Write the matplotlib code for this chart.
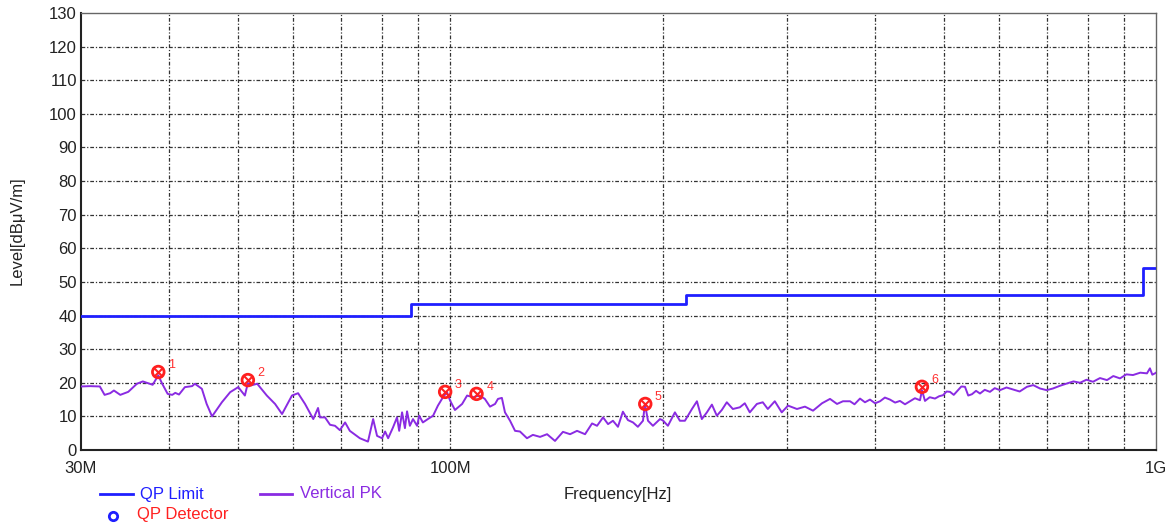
import matplotlib
matplotlib.use("Agg")
import matplotlib.pyplot as plt
import matplotlib.ticker as mticker
from matplotlib.lines import Line2D

plt.rcParams['font.family'] = ['Liberation Sans', 'DejaVu Sans']

# QP limit (MHz, dBuV/m), drawn as steps
limit_freq = [30.0, 88.0, 88.0, 216.0, 216.0, 960.0, 960.0, 1000.0]
limit_level = [40.0, 40.0, 43.5, 43.5, 46.0, 46.0, 54.0, 54.0]

# Vertical PK trace
pk_freq = [30.0, 30.9, 31.9, 32.4, 33.0, 33.4, 34.1, 35.0, 36.0, 36.7, 37.9, 38.6, 39.1,
           39.8, 40.4, 40.8, 41.3, 42.1, 43.1, 43.5, 44.5, 45.2, 46.0, 47.5, 48.8, 50.1,
           51.2, 51.7, 52.2, 53.3, 55.0, 56.5, 57.8, 59.7, 60.9, 62.3, 64.0, 65.0, 65.4,
           66.5, 67.6, 68.7, 69.8, 71.0, 72.1, 74.5, 76.5, 77.8, 78.8, 80.1, 80.9, 81.7,
           83.0, 84.1, 84.7, 85.5, 86.3, 86.9, 87.7, 88.6, 89.8, 90.4, 91.5, 93.0, 94.6,
           96.1, 97.7, 99.0, 100.0, 101.6, 104.0, 105.7, 107.7, 110.2, 112.0, 113.9, 115.8,
           116.9, 118.4, 119.6, 121.6, 123.6, 125.6, 128.5, 131.0, 134.1, 137.2, 140.8,
           144.5, 147.9, 151.3, 155.3, 158.9, 161.5, 164.7, 167.4, 170.1, 172.9, 175.7,
           178.6, 181.6, 184.5, 187.6, 188.8, 190.7, 193.8, 198.3, 200.2, 203.5, 208.2,
           211.6, 215.1, 220.1, 223.7, 227.3, 231.1, 234.9, 238.7, 242.6, 246.6, 251.5,
           257.3, 261.5, 265.8, 272.0, 277.3, 281.9, 288.4, 295.0, 301.1, 310.0, 318.2,
           326.7, 336.4, 345.3, 353.3, 360.2, 368.6, 374.0, 380.8, 387.0, 393.4, 400.0,
           406.5, 413.0, 419.9, 427.0, 433.8, 441.0, 448.2, 455.5, 463.1, 466.1, 470.7,
           478.0, 486.3, 493.0, 499.2, 505.0, 510.7, 517.0, 524.3, 530.0, 536.3, 542.0,
           548.7, 556.0, 563.2, 572.0, 581.8, 591.0, 601.1, 614.0, 627.2, 641.0, 656.4,
           670.0, 684.9, 700.0, 714.5, 731.0, 748.0, 764.0, 780.5, 797.0, 814.3, 833.0,
           852.3, 870.0, 889.2, 908.0, 927.7, 950.0, 971.0, 980.4, 988.0, 996.6, 1000.0]
pk_level = [18.9, 19.0, 18.9, 16.4, 16.9, 17.7, 16.4, 17.3, 19.7, 20.4, 19.4, 22.2, 19.7,
            16.7, 16.4, 17.0, 16.5, 18.7, 19.0, 19.7, 18.2, 13.7, 10.0, 14.2, 17.2, 18.7,
            16.2, 19.9, 19.2, 19.7, 16.2, 13.7, 10.7, 16.2, 16.9, 13.7, 9.2, 12.5, 9.7,
            9.7, 7.5, 7.2, 5.9, 8.2, 5.7, 3.5, 2.5, 9.2, 4.2, 3.5, 5.5, 3.5,
            6.7, 9.7, 5.7, 11.2, 6.5, 11.5, 7.2, 9.2, 7.2, 10.2, 8.2, 9.2, 10.2,
            13.2, 15.7, 17.2, 14.7, 11.9, 13.7, 16.2, 15.7, 16.2, 15.2, 12.9, 13.7,
            15.2, 15.5, 11.2, 8.7, 5.7, 5.5, 3.5, 4.5, 3.9, 4.7, 2.7,
            5.4, 4.7, 5.7, 4.7, 7.9, 7.2, 9.7, 7.7, 8.7, 6.9, 11.4,
            8.9, 8.2, 6.9, 8.7, 13.7, 8.7, 7.2, 9.2, 8.8, 7.2, 11.2,
            8.7, 8.7, 12.2, 14.5, 9.2, 11.2, 13.5, 10.2, 11.9, 14.2, 12.2,
            12.7, 13.9, 11.2, 13.7, 14.2, 12.2, 14.5, 11.2, 13.2, 12.2, 12.9,
            11.7, 13.9, 15.2, 13.7, 14.5, 14.5, 13.6, 15.3, 14.2, 15.0, 13.9,
            14.5, 15.6, 15.0, 14.1, 14.6, 13.6, 14.5, 15.4, 14.8, 17.8, 14.6,
            15.7, 15.3, 16.0, 16.3, 17.4, 17.3, 16.4, 17.8, 18.9, 18.8, 16.2,
            16.6, 17.6, 16.8, 17.9, 17.3, 18.4, 17.8, 18.6, 18.0, 17.4, 18.8,
            19.3, 18.3, 17.8, 18.3, 19.1, 19.8, 20.4, 20.0, 20.9, 20.3, 21.4,
            20.8, 22.0, 21.3, 22.5, 22.3, 23.0, 22.8, 24.3, 22.4, 22.8, 23.0]

# QP detector peaks (MHz, dBuV/m)
peak_freq = [38.6, 51.7, 98.4, 109.0, 189.0, 466.0]
peak_level = [23.2, 20.8, 17.3, 16.7, 13.7, 18.8]
peak_labels = ['1', '2', '3', '4', '5', '6']

yticks = list(range(0, 131, 10))
grid_freqs = [40, 50, 60, 70, 80, 90, 100, 200, 300, 400, 500, 600, 700, 800, 900]
xtick_freqs = [30, 100, 1000]
xtick_labels = ['30M', '100M', '1G']

limit_color = '#1f1fff'
pk_color = '#8a2be2'
text_color = '#222222'

W, H = 1170, 526
fig = plt.figure(figsize=(11.7, 5.26), dpi=100)
ax = fig.add_axes([81 / W, 1 - 450 / H, 1075 / W, 437 / H])

ax.set_xscale('log')
ax.set_xlim(30, 1000)
ax.set_ylim(0, 130)

# grid
for f in grid_freqs:
    ax.axvline(f, color='#333333', lw=0.9, ls=(0, (3, 1.5, 1, 1.5)), zorder=1)
for y in yticks[1:-1]:
    ax.axhline(y, color='#333333', lw=0.9, ls=(0, (3, 1.5, 1, 1.5)), zorder=1)

ax.plot(limit_freq, limit_level, color=limit_color, lw=2, zorder=3)
ax.plot(pk_freq, pk_level, color=pk_color, lw=1.4, zorder=3)

ax.scatter(peak_freq, peak_level, s=70, facecolors='none', edgecolors='#ff2020',
           linewidths=2, zorder=5)
ax.scatter(peak_freq, peak_level, s=40, marker='x', color='#ff2020', linewidths=1.5, zorder=6)
for f, lv, lab in zip(peak_freq, peak_level, peak_labels):
    ax.annotate(lab, (f, lv), xytext=(7, 3), textcoords='offset points',
                color='#ff3030', fontsize=9)

ax.xaxis.set_major_locator(mticker.FixedLocator(xtick_freqs))
ax.xaxis.set_major_formatter(mticker.FixedFormatter(xtick_labels))
ax.xaxis.set_minor_locator(mticker.NullLocator())
ax.set_yticks(yticks)
ax.tick_params(axis='both', length=0, labelsize=12, colors=text_color)
ax.tick_params(axis='x', pad=8)
ax.tick_params(axis='y', pad=3)

for s in ax.spines.values():
    s.set_color('#666666')
    s.set_linewidth(1)
ax.spines['left'].set_color('#222222')
ax.spines['bottom'].set_color('#222222')
ax.spines['left'].set_linewidth(1.5)
ax.spines['bottom'].set_linewidth(1.5)

fig.text(17 / W, 1 - 231 / H, 'Level[dBμV/m]', rotation=90, ha='center', va='center',
         fontsize=12, color=text_color)
fig.text(618 / W, 1 - 494 / H, 'Frequency[Hz]', ha='center', va='center', fontsize=12,
         color=text_color)

# legend below the axes
fig.add_artist(Line2D([100 / W, 133 / W], [1 - 494 / H] * 2, color=limit_color, lw=2))
fig.text(140 / W, 1 - 494 / H, 'QP Limit', va='center', fontsize=12, color=limit_color)
fig.add_artist(Line2D([260 / W, 292 / W], [1 - 494 / H] * 2, color=pk_color, lw=2))
fig.text(300 / W, 1 - 494 / H, 'Vertical PK', va='center', fontsize=12, color=pk_color)
fig.add_artist(Line2D([113 / W], [1 - 516 / H], marker='o', markersize=6,
                      markerfacecolor='none', markeredgecolor=limit_color, markeredgewidth=2))
fig.text(137 / W, 1 - 515 / H, 'QP Detector', va='center', fontsize=12, color='#ff2020')

fig.savefig('out.png', dpi=100)
